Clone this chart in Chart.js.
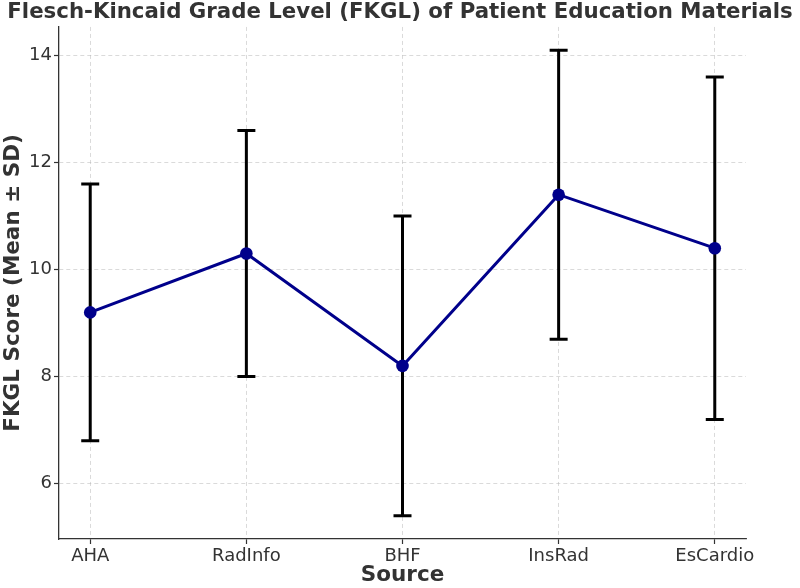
<!DOCTYPE html>
<html>
<head>
<meta charset="utf-8">
<script src="https://cdn.jsdelivr.net/npm/chart.js@4/dist/chart.umd.min.js"></script>
<style>
  html, body { margin: 0; padding: 0; background: #fff; }
</style>
</head>
<body>
<canvas id="fkgl" width="800" height="588"></canvas>
<script>
// data
const sources = ['AHA', 'RadInfo', 'BHF', 'InsRad', 'EsCardio'];
const meanScores = [9.2, 10.3, 8.2, 11.4, 10.4];
const sdScores = [2.4, 2.3, 2.8, 2.7, 3.2];
const yTicks = [6, 8, 10, 12, 14];

const FONT = "'DejaVu Sans', sans-serif";
const TEXT = '#333333';

// draws the ± SD whiskers under the line, using the chart scales
const errorBars = {
  id: 'errorBars',
  beforeDatasetsDraw(chart) {
    const { ctx, scales: { x, y } } = chart;
    ctx.save();
    ctx.strokeStyle = '#000';
    ctx.lineWidth = 3;
    meanScores.forEach((m, i) => {
      const px = x.getPixelForValue(i);
      const top = y.getPixelForValue(m + sdScores[i]);
      const bot = y.getPixelForValue(m - sdScores[i]);
      ctx.beginPath();
      ctx.moveTo(px, top); ctx.lineTo(px, bot);
      ctx.moveTo(px - 9, top); ctx.lineTo(px + 9, top);
      ctx.moveTo(px - 9, bot); ctx.lineTo(px + 9, bot);
      ctx.stroke();
    });
    ctx.restore();
  }
};

new Chart(document.getElementById('fkgl'), {
  type: 'line',
  data: {
    datasets: [{
      label: 'FKGL',
      data: meanScores.map((v, i) => ({ x: i, y: v })),
      borderColor: '#00008b',
      backgroundColor: '#00008b',
      borderWidth: 3,
      pointRadius: 6.3,
      pointBorderWidth: 0,
      tension: 0
    }]
  },
  options: {
    responsive: false,
    animation: false,
    devicePixelRatio: 1,
    layout: { padding: 0 },
    plugins: {
      legend: { display: false },
      tooltip: { enabled: false },
      title: {
        display: true,
        text: 'Flesch-Kincaid Grade Level (FKGL) of Patient Education Materials',
        color: TEXT,
        font: { family: FONT, size: 21.3, weight: 'bold' },
        padding: { top: 0, bottom: 1.4 }
      }
    },
    scales: {
      x: {
        type: 'linear',
        min: -0.2,
        max: 4.2,
        afterBuildTicks: s => { s.ticks = sources.map((_, i) => ({ value: i })); },
        afterFit: s => { s.height = 49; },
        ticks: {
          callback: v => sources[v],
          color: TEXT,
          font: { family: FONT, size: 18 },
          padding: 2,
          maxRotation: 0,
          autoSkip: false
        },
        grid: { color: 'rgba(176,176,176,0.6)', lineWidth: 0.8, tickLength: 5, tickColor: TEXT, tickWidth: 1.2 },
        border: { display: true, color: TEXT, width: 1.3, dash: [4, 3] },
        title: {
          display: true,
          text: 'Source',
          color: TEXT,
          font: { family: FONT, size: 21.5, weight: 'bold' },
          padding: { top: 0, bottom: 0 }
        }
      },
      y: {
        min: 4.965,
        max: 14.535,
        afterBuildTicks: s => { s.ticks = yTicks.map(v => ({ value: v })); },
        afterFit: s => { s.width = 59; },
        ticks: {
          color: TEXT,
          font: { family: FONT, size: 18 },
          padding: 2
        },
        grid: { color: 'rgba(176,176,176,0.6)', lineWidth: 0.8, tickLength: 5, tickColor: TEXT, tickWidth: 1.2 },
        border: { display: true, color: TEXT, width: 1.3, dash: [4, 3] },
        title: {
          display: true,
          text: 'FKGL Score (Mean ± SD)',
          color: TEXT,
          font: { family: FONT, size: 21.5, weight: 'bold' },
          padding: { top: 1, bottom: 0 }
        }
      },
      // empty right-hand box that keeps the plot area clear of the right margin
      yRight: {
        position: 'right',
        min: 4.965,
        max: 14.535,
        afterFit: s => { s.width = 54; },
        ticks: { display: false },
        grid: { display: false, drawOnChartArea: false },
        border: { display: false }
      }
    }
  },
  plugins: [errorBars]
});
</script>
</body>
</html>
